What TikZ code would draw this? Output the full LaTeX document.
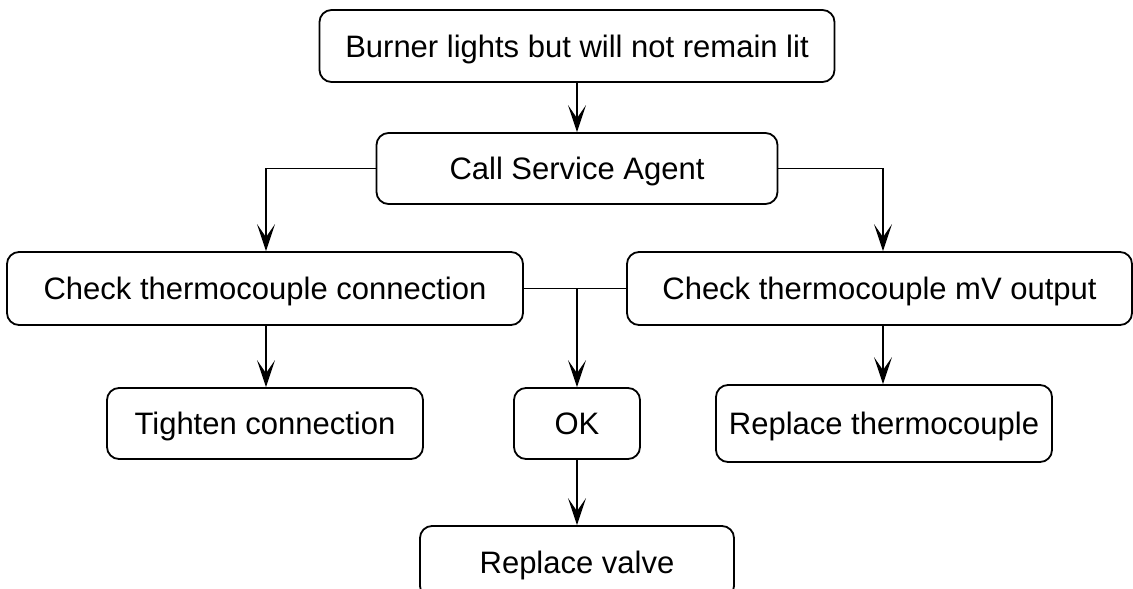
\documentclass[tikz,border=0pt]{standalone}
\usepackage{fontspec}
\setmainfont{Liberation Sans}
\usetikzlibrary{arrows.meta}
\begin{document}
\begin{tikzpicture}[x=1pt,y=-1pt,
  box/.style={draw,line width=1.8pt,rounded corners=12pt,inner sep=0pt,
    font=\fontsize{31}{37}\selectfont,text height=22.5pt,text depth=0pt,align=center},
  conn/.style={line width=1.8pt,-{Stealth[length=27pt,width=18pt,inset=13pt]}},
  plain/.style={line width=1.8pt}]
\clip (0,0) rectangle (1133,589);
\fill[white] (0,0) rectangle (1133,589);
\node[box,minimum width=515pt,minimum height=72pt] (top) at (577,46) {Burner lights but will not remain lit};
\node[box,minimum width=401pt,minimum height=71pt] (call) at (577,168.5) {Call Service Agent};
\node[box,minimum width=516pt,minimum height=73pt] (left) at (265,288.5) {Check thermocouple connection};
\node[box,minimum width=505pt,minimum height=73pt] (right) at (879.5,288.5) {Check thermocouple mV output};
\node[box,minimum width=316pt,minimum height=71pt] (tight) at (265,423.5) {Tighten connection};
\node[box,minimum width=126pt,minimum height=71pt] (ok) at (577,423.5) {OK};
\node[box,minimum width=336pt,minimum height=77pt] (repth) at (884,423.5) {Replace thermocouple};
\node[box,minimum width=314pt,minimum height=72pt] (valve) at (577,562) {Replace valve};
\draw[conn] (top.south) -- (call.north);
\draw[conn] (call.west) -| ([xshift=1pt]left.north);
\draw[conn] (call.east) -| ([xshift=3.5pt]right.north);
\draw[conn] ([xshift=1pt]left.south) -- ([xshift=1pt]tight.north);
\draw[conn] ([xshift=3.5pt]right.south) -- ([xshift=-1pt]repth.north);
\draw[plain] (left.east) -- (right.west);
\coordinate (j) at (ok.north |- left.east);
\draw[conn] (j) -- (ok.north);
\draw[conn] (ok.south) -- (valve.north);
\end{tikzpicture}
\end{document}
